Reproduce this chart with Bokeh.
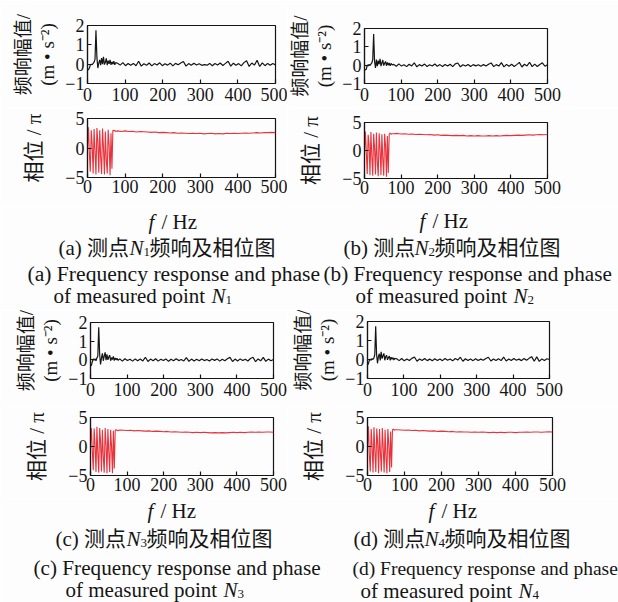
from bokeh.plotting import figure
from bokeh.layouts import column, row
from bokeh.models import Range1d, FixedTicker
from bokeh.embed import file_html
from bokeh.resources import INLINE
from bokeh.core.properties import value

# ---------------- data ----------------
FREQ_LO = [0, 2.5, 5, 7.5, 10, 12.5, 15, 17.5, 20, 22.5, 25, 27.5, 30, 32.5, 35,
           37.5, 40, 42.5, 45, 47.5, 50, 52.5, 55, 57.5, 60, 62.5, 65, 67.5, 70, 72.5, 75]
FREQ_HI_AMP = [80, 87, 94, 101, 108, 115, 122, 129, 136, 143, 150, 157, 164, 171, 178,
               185, 192, 199, 206, 213, 220, 227, 234, 241, 248, 255, 262, 269, 276, 283,
               290, 297, 304, 311, 318, 325, 332, 339, 346, 353, 360, 367, 374, 381, 388,
               395, 402, 409, 416, 423, 430, 437, 444, 451, 458, 465, 472, 479, 486, 493, 500]
FREQ_HI_PH = [80, 90, 100, 110, 120, 130, 140, 150, 160, 170, 180, 190, 200, 210, 220,
              230, 240, 250, 260, 270, 280, 290, 300, 310, 320, 330, 340, 350, 360, 370,
              380, 390, 400, 410, 420, 430, 440, 450, 460, 470, 480, 490, 500]

X_TICKS = [0, 100, 200, 300, 400, 500]
AMP_TICKS = [-1, 0, 1, 2]
PH_TICKS = [-5, 0, 5]

AMP_A_LO = [-0.30, -0.28, -0.20, -0.05, 0.00, -0.03, 0.04, 0.10, 0.25, 1.75,
            0.35, -0.20, 0.05, 0.22, -0.05, 0.32, 0.00, 0.38, -0.02, 0.10,
            0.30, -0.05, 0.18, 0.02, 0.22, -0.04, 0.12, 0.00, 0.15, -0.03, 0.08]
AMP_A_HI = [0.05, -0.05, 0.08, -0.08, 0.03, -0.06, 0.04, -0.08, 0.15, -0.10,
            0.02, -0.06, 0.06, -0.09, 0.03, -0.04, 0.07, -0.08, 0.02, -0.05,
            0.05, -0.09, 0.04, -0.03, 0.06, 0.14, -0.10, 0.03, -0.06, 0.05,
            -0.04, 0.02, -0.06, -0.02, -0.05, 0.04, -0.08, 0.03, -0.04, 0.06,
            -0.07, 0.04, 0.15, -0.10, 0.05, -0.06, 0.03, -0.09, 0.08, 0.18,
            -0.12, 0.06, -0.05, 0.20, -0.12, 0.07, -0.08, 0.04, -0.06, 0.03, -0.04]
PH_A_LO = [0.2, 3.5, -1.0, -4.0, 3.0, 0.5, -4.3, 3.2, -0.5, -4.5,
           3.4, 1.0, -4.2, 3.0, -1.5, -4.4, 3.3, 0.0, -4.5, 2.8,
           -2.0, -4.3, 3.1, 0.5, -4.6, 2.5, -3.5, 3.0, 2.9, 3.0, 2.8]
PH_A_HI = [2.9, 2.8, 2.9, 2.8, 2.85, 2.7, 2.8, 2.75, 2.7, 2.65,
           2.7, 2.6, 2.65, 2.6, 2.55, 2.6, 2.5, 2.55, 2.5, 2.45,
           2.5, 2.45, 2.5, 2.4, 2.45, 2.5, 2.4, 2.45, 2.4, 2.5,
           2.45, 2.5, 2.45, 2.5, 2.55, 2.5, 2.55, 2.6, 2.55, 2.6, 2.6, 2.65, 2.6]

AMP_B_LO = [-0.28, -0.25, -0.22, 0.02, -0.05, 0.05, -0.02, 0.06, 0.12, 0.30,
            1.70, 0.20, -0.15, 0.30, -0.05, 0.25, 0.05, 0.35, -0.05, 0.12,
            0.28, -0.02, 0.10, 0.20, -0.03, 0.15, 0.00, 0.12, -0.04, 0.10, 0.02]
AMP_B_HI = [0.04, -0.06, 0.07, -0.05, 0.02, -0.08, 0.05, -0.04, 0.13, -0.09,
            0.03, -0.05, 0.06, -0.07, 0.02, -0.05, 0.06, -0.06, 0.03, -0.07,
            0.04, -0.05, 0.05, -0.08, 0.07, 0.12, -0.09, 0.02, -0.05, 0.04,
            -0.07, 0.03, -0.04, 0.02, -0.06, 0.03, -0.05, 0.05, 0.12, -0.08,
            0.03, -0.05, 0.14, -0.09, 0.04, -0.06, 0.05, -0.07, 0.03, 0.15,
            -0.10, 0.05, -0.04, 0.16, -0.08, 0.06, -0.07, 0.04, 0.13, -0.06, 0.02]
PH_B_LO = [0.0, 3.4, -0.5, -4.2, 2.8, 1.0, -4.4, 3.3, -1.0, -4.5,
           3.0, 0.5, -4.3, 3.2, -2.0, -4.6, 3.1, 0.2, -4.4, 2.9,
           -1.5, -4.5, 3.0, 0.8, -4.7, 2.6, -4.0, 2.9, 3.1, 2.9, 3.0]
PH_B_HI = [3.0, 3.05, 2.95, 3.0, 2.9, 2.95, 2.85, 2.9, 2.85, 2.8,
           2.85, 2.75, 2.8, 2.7, 2.75, 2.7, 2.65, 2.7, 2.65, 2.7,
           2.6, 2.65, 2.6, 2.65, 2.6, 2.6, 2.65, 2.6, 2.65, 2.6,
           2.65, 2.7, 2.65, 2.7, 2.75, 2.7, 2.75, 2.8, 2.75, 2.8, 2.85, 2.8, 2.85]

AMP_C_LO = [-0.32, -0.30, -0.10, 0.05, -0.02, 0.06, -0.05, 0.10, 0.20, 1.75,
            0.30, -0.25, 0.10, 0.35, -0.05, 0.20, 0.40, -0.02, 0.30, 0.00,
            0.15, 0.25, -0.05, 0.12, 0.02, 0.18, -0.04, 0.10, 0.00, 0.08, -0.02]
AMP_C_HI = [0.05, -0.07, 0.06, -0.04, 0.03, -0.07, 0.05, -0.05, 0.04, -0.06,
            0.14, -0.09, 0.04, -0.05, 0.06, -0.07, 0.03, -0.04, 0.05, -0.08,
            0.03, -0.05, 0.06, -0.04, 0.02, -0.06, 0.12, -0.08, 0.04, -0.06,
            0.03, -0.05, 0.05, -0.04, 0.02, -0.06, 0.04, -0.03, 0.05, -0.07,
            0.03, -0.05, 0.06, 0.13, -0.09, 0.04, -0.06, 0.05, -0.04, 0.03,
            -0.06, 0.07, 0.14, -0.10, 0.05, -0.05, 0.13, -0.08, 0.04, -0.05, 0.02]
PH_C_LO = [0.3, 3.2, -0.8, -4.1, 3.1, 0.2, -4.4, 3.4, -1.2, -4.5,
           3.2, 0.8, -4.3, 2.9, -1.8, -4.5, 3.2, 0.3, -4.6, 3.0,
           -1.0, -4.4, 2.9, 0.0, -4.6, 2.7, -3.8, 2.8, 2.9, 2.8, 2.7]
PH_C_HI = [2.85, 2.8, 2.75, 2.8, 2.7, 2.75, 2.7, 2.65, 2.7, 2.6,
           2.65, 2.6, 2.55, 2.6, 2.5, 2.55, 2.5, 2.45, 2.5, 2.45,
           2.4, 2.45, 2.4, 2.45, 2.4, 2.35, 2.4, 2.35, 2.4, 2.35,
           2.4, 2.45, 2.4, 2.45, 2.4, 2.45, 2.5, 2.45, 2.5, 2.45, 2.5, 2.5, 2.45]

AMP_D_LO = [-0.30, -0.22, -0.05, 0.02, -0.04, 0.05, 0.00, 0.08, 0.25, 1.75,
            0.25, -0.20, 0.15, 0.30, -0.05, 0.40, 0.05, 0.20, 0.32, -0.04,
            0.15, 0.22, -0.02, 0.10, 0.18, -0.05, 0.12, 0.02, 0.10, -0.03, 0.06]
AMP_D_HI = [0.04, -0.06, 0.05, -0.07, 0.03, -0.05, 0.06, 0.13, -0.09, 0.03,
            -0.05, 0.05, -0.06, 0.02, -0.07, 0.04, -0.05, 0.03, -0.06, 0.05,
            -0.04, 0.03, -0.07, 0.05, -0.03, 0.12, -0.09, 0.04, -0.05, 0.03,
            -0.06, 0.04, -0.05, 0.02, -0.04, 0.05, 0.12, -0.08, 0.03, -0.05,
            0.04, -0.06, 0.13, -0.08, 0.03, -0.05, 0.05, -0.04, 0.02, -0.06,
            0.05, -0.04, 0.06, 0.15, -0.09, 0.14, -0.10, 0.03, -0.05, 0.04, 0.00]
PH_D_LO = [0.1, 3.5, -1.5, -4.3, 3.0, 0.0, -4.5, 3.3, -0.8, -4.4,
           3.1, 0.6, -4.6, 3.0, -1.2, -4.3, 3.2, -0.3, -4.5, 2.9,
           -1.8, -4.6, 3.0, 0.4, -4.4, 2.6, -3.6, 2.9, 3.0, 2.8, 2.9]
PH_D_HI = [2.9, 2.85, 2.8, 2.85, 2.75, 2.8, 2.7, 2.75, 2.7, 2.65,
           2.7, 2.6, 2.65, 2.6, 2.55, 2.6, 2.5, 2.55, 2.5, 2.5,
           2.45, 2.5, 2.45, 2.5, 2.45, 2.4, 2.45, 2.4, 2.45, 2.4,
           2.45, 2.45, 2.4, 2.45, 2.45, 2.5, 2.45, 2.5, 2.5, 2.45, 2.5, 2.55, 2.5]

AMP_LABEL = "频响幅值/\n(m • s⁻²)"
PH_LABEL = "相位 / π"
LETTERS = ["a", "b", "c", "d"]
CN_CAPTION = "频响及相位图"
EN_LINE1 = "Frequency response and phase"
EN_LINE2 = "of measured point "

# ---------------- styling ----------------
SERIF = "Liberation Serif, Noto Sans CJK SC"
BG = "#fdfdfd"
INK = "#151515"
RED = "#e8323c"


def style_axes(p, yticks, overrides):
    p.xgrid.visible = False
    p.ygrid.visible = False
    p.xaxis.ticker = FixedTicker(ticks=X_TICKS)
    p.yaxis.ticker = FixedTicker(ticks=yticks)
    p.yaxis.major_label_overrides = overrides
    for ax in (p.xaxis[0], p.yaxis[0]):
        ax.major_tick_in = 4
        ax.major_tick_out = 0
        ax.minor_tick_line_color = None
        ax.axis_line_color = INK
        ax.axis_line_width = 1.2
        ax.major_tick_line_color = INK
        ax.major_tick_line_width = 1.2
        ax.major_label_text_font = SERIF
        ax.major_label_text_font_size = "18px"
        ax.major_label_text_color = INK
        ax.axis_label_text_font = SERIF
        ax.axis_label_text_font_style = "normal"
        ax.axis_label_text_color = INK
    p.xaxis.major_label_standoff = 4
    p.yaxis.major_label_standoff = 3


def make_fig(fw, fh, left, right, top, bottom, yr):
    return figure(frame_width=fw, frame_height=fh, x_range=Range1d(0, 500),
                  y_range=Range1d(*yr), output_backend="svg", toolbar_location=None,
                  min_border_left=left, min_border_right=right,
                  min_border_top=top, min_border_bottom=bottom,
                  background_fill_color=BG, border_fill_color=BG,
                  outline_line_color=INK, outline_line_width=1.2)


def amp_plot(lo, hi, fw, fh, left, right, top, bottom):
    p = make_fig(fw, fh, left, right, top, bottom, (-1, 2))
    style_axes(p, AMP_TICKS, {-1: "−1"})
    p.yaxis.axis_label = AMP_LABEL
    p.yaxis.axis_label_text_font_size = "19px"
    p.yaxis.axis_label_text_line_height = 1.15
    p.yaxis.axis_label_standoff = 4
    p.line(FREQ_LO + FREQ_HI_AMP, lo + hi, line_color=INK, line_width=1.2)
    return p


def ph_plot(lo, hi, fw, fh, left, right, top, bottom):
    p = make_fig(fw, fh, left, right, top, bottom, (-5, 5))
    style_axes(p, PH_TICKS, {-5: "−5"})
    p.xaxis.major_label_standoff = 2
    p.yaxis.axis_label = PH_LABEL
    p.yaxis.axis_label_text_font_size = "21px"
    p.yaxis.axis_label_standoff = 16
    p.line(FREQ_LO + FREQ_HI_PH, lo + hi, line_color=RED, line_width=1.1)
    return p


def band(h):
    p = figure(width=618, height=h, x_range=Range1d(0, 618), y_range=Range1d(h, 0),
               x_axis_location=None, y_axis_location=None, output_backend="svg",
               toolbar_location=None, min_border=0, background_fill_color=BG,
               border_fill_color=BG, outline_line_color=None)
    p.xgrid.visible = False
    p.ygrid.visible = False
    return p


def txt(p, x, y, s, size, style="normal"):
    p.text(x=[x], y=[y], text=[s], text_font=value(SERIF), text_font_size=value(size),
           text_font_style=value(style), text_baseline="middle", text_align="left",
           text_color=INK)


def captions(p, k, fx, fy, cn_x, cn_y, e1_x, e1_y, e2_x, e2_y, e1_size="21.2px"):
    letter = LETTERS[k]
    sub = str(k + 1)
    # f / Hz
    txt(p, fx, fy, "f", "21px", "italic")
    txt(p, fx + 13, fy, "/ Hz", "21px")
    # Chinese caption
    txt(p, cn_x, cn_y, "(%s) 测点" % letter, "21px")
    txt(p, cn_x + 71, cn_y, "N", "21px", "italic")
    txt(p, cn_x + 85, cn_y + 4, sub, "13px")
    txt(p, cn_x + 91, cn_y, CN_CAPTION, "21px")
    # English caption
    txt(p, e1_x, e1_y, "(%s) %s" % (letter, EN_LINE1), e1_size)
    txt(p, e2_x, e2_y, EN_LINE2, "21px")
    txt(p, e2_x + 158, e2_y, "N", "21px", "italic")
    txt(p, e2_x + 172, e2_y + 4, sub, "13px")


# ---------------- top row (0-207) ----------------
amp_a = amp_plot(AMP_A_LO, AMP_A_HI, 188, 58, 87, 12, 25, 25)
ph_a = ph_plot(PH_A_LO, PH_A_HI, 188, 59, 87, 12, 10, 30)
amp_b = amp_plot(AMP_B_LO, AMP_B_HI, 183, 55, 74, 74, 28, 25)
ph_b = ph_plot(PH_B_LO, PH_B_HI, 183, 56, 74, 74, 14, 29)

# ---------------- caption band (207-310) ----------------
band1 = band(103)
captions(band1, 0, 148, 14.7, 58, 40, 27, 66, 53, 88, e1_size="21.6px")
captions(band1, 1, 419, 13, 343, 40, 323, 66, 355, 88)

# ---------------- bottom row (310-498) ----------------
amp_c = amp_plot(AMP_C_LO, AMP_C_HI, 183, 56, 90, 14, 12, 27)
ph_c = ph_plot(PH_C_LO, PH_C_HI, 183, 58, 90, 14, 12, 23)
amp_d = amp_plot(AMP_D_LO, AMP_D_HI, 182, 57, 80, 69, 11, 27)
ph_d = ph_plot(PH_D_LO, PH_D_HI, 185, 58, 77, 69, 12, 23)

# ---------------- caption band (498-602) ----------------
band2 = band(104)
captions(band2, 2, 147, 12, 55, 40, 33, 69, 65, 91)
captions(band2, 3, 428, 12, 353, 40, 352, 70, 360, 92, e1_size="19.5px")

layout = column(
    row(column(amp_a, ph_a, spacing=0), column(amp_b, ph_b, spacing=0), spacing=0),
    band1,
    row(column(amp_c, ph_c, spacing=0), column(amp_d, ph_d, spacing=0), spacing=0),
    band2,
    spacing=0,
)

open("out.html", "w").write(file_html(layout, INLINE, title="frequency response"))
